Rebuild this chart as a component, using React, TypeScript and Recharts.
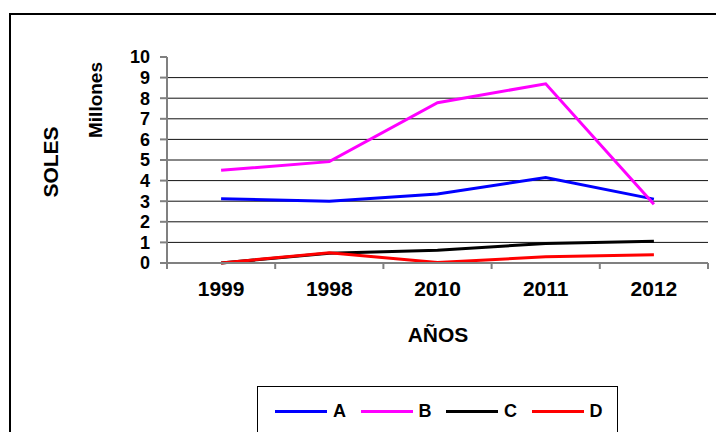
import { LineChart, Line, XAxis, YAxis, ReferenceLine, Legend } from "recharts";

const years = ["1999", "1998", "2010", "2011", "2012"];
const serieA = [3.12, 3.0, 3.35, 4.15, 3.1];
const serieB = [4.5, 4.92, 7.78, 8.7, 2.85];
const serieC = [0, 0.47, 0.62, 0.95, 1.05];
const serieD = [0, 0.5, 0.02, 0.3, 0.4];
const yTicks = [0, 1, 2, 3, 4, 5, 6, 7, 8, 9, 10];
const gridValues = [1, 2, 3, 4, 5, 6, 7, 8, 9];

const data = years.map((y, i) => ({
  year: y,
  A: serieA[i],
  B: serieB[i],
  C: serieC[i],
  D: serieD[i],
}));

const W = 716;
const H = 432;
const margin = { top: 57, right: 8, bottom: 129, left: 117 };
const yAxisW = 50;
const xAxisH = 40;
const plotW = W - margin.left - margin.right - yAxisW;
const band = plotW / years.length;
const font = '"Liberation Sans", Arial, sans-serif';

// tick marks sit on the category boundaries, labels in the middle
const XTick = (props: any) => {
  const { x, y, payload, index } = props;
  const axisY = y - 6 - 8;
  return (
    <g>
      <line x1={x - band / 2} x2={x - band / 2} y1={axisY} y2={axisY + 6} stroke="#808080" strokeWidth={2} />
      {index === years.length - 1 && (
        <line x1={x + band / 2} x2={x + band / 2} y1={axisY} y2={axisY + 6} stroke="#808080" strokeWidth={2} />
      )}
      <text x={x} y={axisY + 33} textAnchor="middle" fontSize={21} fontWeight="bold" fill="#000" fontFamily={font}>
        {payload.value}
      </text>
    </g>
  );
};

const LegendBox = (props: any) => (
  <div style={{ display: "flex", alignItems: "center", paddingLeft: 17, height: "100%" }}>
    {props.payload.map((p: any) => (
      <div key={p.value} style={{ display: "flex", alignItems: "center", width: 87.5 }}>
        <div style={{ width: 52, height: 3, background: p.color }} />
        <span style={{ marginLeft: 6, fontSize: 18, fontWeight: "bold", fontFamily: font, color: "#000" }}>
          {p.value}
        </span>
      </div>
    ))}
  </div>
);

const title = (text: string, cx: number, cy: number, size: number, rotate: boolean) => (
  <div
    style={{
      position: "absolute",
      left: cx,
      top: cy,
      transform: `translate(-50%, -50%)${rotate ? " rotate(-90deg)" : ""}`,
      fontFamily: font,
      fontWeight: "bold",
      fontSize: size,
      lineHeight: 1,
      whiteSpace: "nowrap",
      color: "#000",
    }}
  >
    {text}
  </div>
);

export default function App() {
  return (
    <div style={{ position: "absolute", left: 0, top: 0, width: W, height: H, overflow: "hidden", background: "#fff" }}>
      <div
        style={{
          position: "absolute",
          left: 9,
          top: 13,
          width: 730,
          height: 440,
          border: "2px solid #000",
        }}
      />
      <div style={{ position: "absolute", left: 0, top: 0 }}>
        <LineChart width={W} height={H} data={data} margin={margin}>
          {gridValues.map((v) => (
            <ReferenceLine key={v} y={v} stroke="#111" strokeWidth={1} ifOverflow="extendDomain" />
          ))}
          <XAxis
            dataKey="year"
            height={xAxisH}
            padding={{ left: band / 2, right: band / 2 }}
            tickLine={false}
            tickSize={6}
            tickMargin={8}
            interval={0}
            axisLine={{ stroke: "#808080", strokeWidth: 2 }}
            tick={<XTick />}
          />
          <YAxis
            width={yAxisW}
            domain={[0, 10]}
            ticks={yTicks}
            interval={0}
            tickSize={7}
            tickMargin={10}
            axisLine={{ stroke: "#808080", strokeWidth: 2 }}
            tickLine={{ stroke: "#808080", strokeWidth: 2 }}
            tick={{ fontSize: 18, fontWeight: "bold", fill: "#000", fontFamily: font }}
          />
          <Line dataKey="A" name="A" stroke="#0000FF" strokeWidth={3} dot={false} isAnimationActive={false} />
          <Line dataKey="B" name="B" stroke="#FF00FF" strokeWidth={3} dot={false} isAnimationActive={false} />
          <Line dataKey="C" name="C" stroke="#000000" strokeWidth={3} dot={false} isAnimationActive={false} />
          <Line dataKey="D" name="D" stroke="#FF0000" strokeWidth={3} dot={false} isAnimationActive={false} />
          <Legend
            layout="horizontal"
            verticalAlign="middle"
            align="center"
            content={<LegendBox />}
            wrapperStyle={{
              left: 257,
              top: 386,
              width: 361,
              height: 50,
              border: "1px solid #000",
              boxSizing: "border-box",
              background: "#fff",
            }}
          />
        </LineChart>
      </div>
      {title("SOLES", 50, 162, 21, true)}
      {title("Millones", 95, 100, 19, true)}
      {title("AÑOS", 438, 334, 21, false)}
    </div>
  );
}
